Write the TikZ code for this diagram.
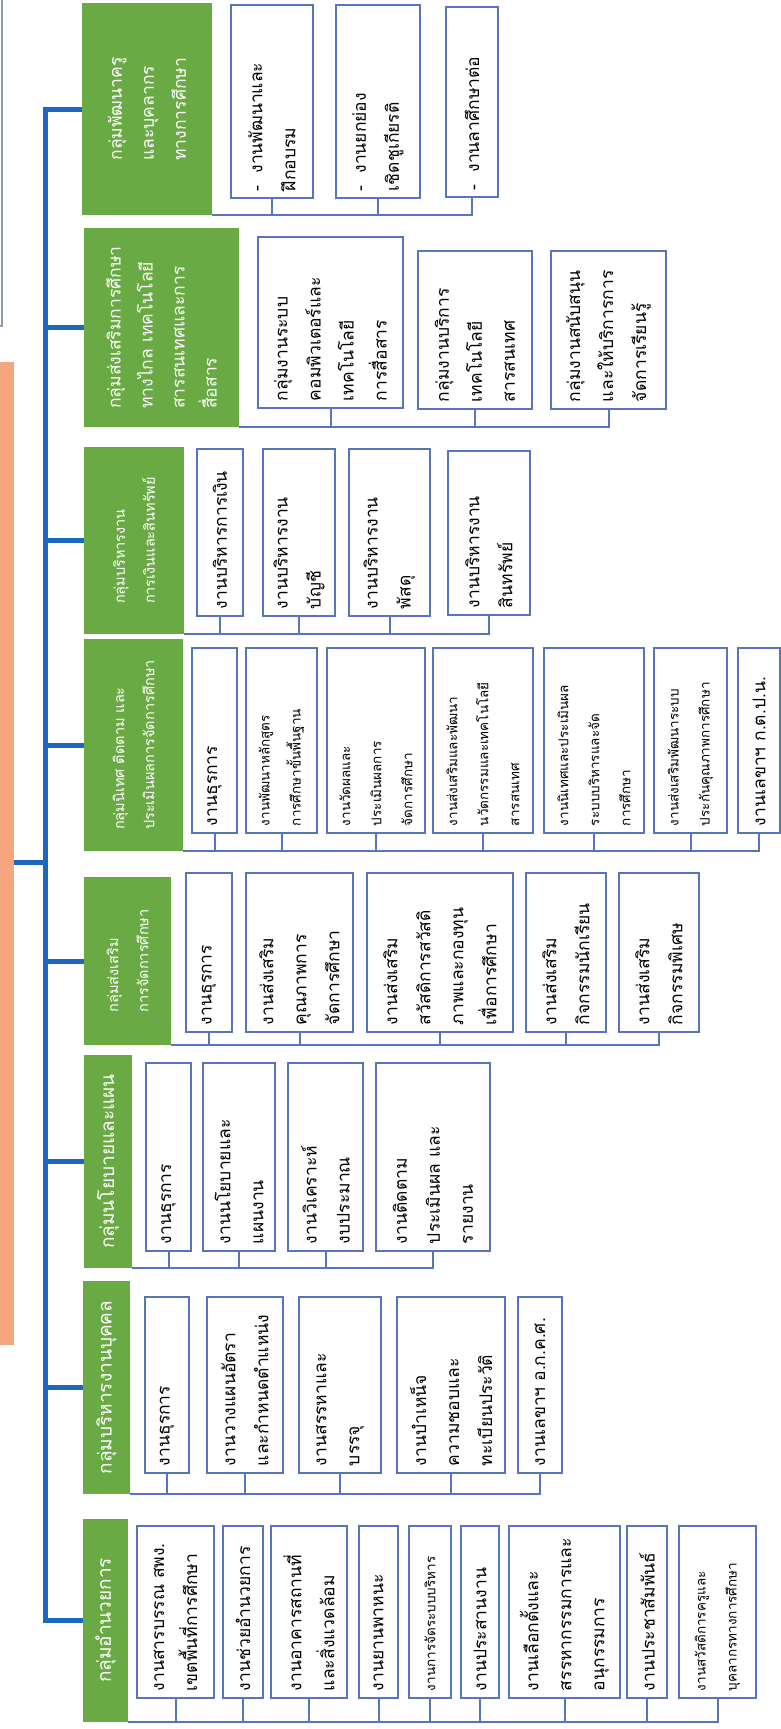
\documentclass[tikz,border=0pt]{standalone}
\usepackage{fontspec}
\setmainfont{Loma}[Script=Thai]
\definecolor{grpgreen}{RGB}{106,170,68}
\definecolor{trunkblue}{RGB}{28,104,190}
\definecolor{linkblue}{RGB}{88,116,186}
\definecolor{titleorange}{RGB}{245,166,126}
\definecolor{framegray}{RGB}{140,155,175}

\begin{document}
\begin{tikzpicture}[x=1pt,y=-1pt,
  grp/.style 2 args={rotate=90,fill=grpgreen,text=white,align=left,inner sep=0pt,
    minimum width=#1,minimum height=#2,font=\fontsize{19}{32}\selectfont},
  mid/.style={font=\fontsize{17.5}{32}\selectfont},
  low/.style={font=\fontsize{14.5}{30}\selectfont},
  itm/.style 2 args={rotate=90,draw=linkblue,line width=1.4pt,fill=white,align=left,
    inner xsep=7pt,inner ysep=0pt,minimum width=#1,minimum height=#2,
    text width=#1pt-14pt,font=\fontsize{17.5}{33}\selectfont},
  small/.style={font=\fontsize{13.5}{31}\selectfont},
  trunk/.style={draw=trunkblue,line width=5pt},
  bus/.style={draw=linkblue,line width=2pt}]
\fill[white] (0,0) rectangle (781,1729);
\useasboundingbox (0,0) rectangle (781,1729);
\clip (0,0) rectangle (781,1729);

\node[draw=framegray,line width=1.2pt,minimum width=100,minimum height=400,inner sep=0pt] (frame) at (-48,126) {};
\node[fill=titleorange,minimum width=60,minimum height=983,inner sep=0pt] (title) at (-16,853.5) {};

% groups
\node[grp={212}{130},mid] (g8) at (147,109) {กลุ่มพัฒนาครู\\และบุคลากร\\ทางการศึกษา};
\node[grp={199}{155},mid] (g7) at (161.5,327.5) {กลุ่มส่งเสริมการศึกษา\\ทางไกล เทคโนโลยี\\สารสนเทศและการ\\สื่อสาร};
\node[grp={187}{100},low] (g6) at (134,540.5) {กลุ่มบริหารงาน\\การเงินและสินทรัพย์};
\node[grp={212}{99},low] (g5) at (133.5,745) {กลุ่มนิเทศ ติดตาม และ\\ประเมินผลการจัดการศึกษา};
\node[grp={168}{87},low] (g4) at (127.5,961) {กลุ่มส่งเสริม\\การจัดการศึกษา};
\node[grp={213}{48}] (g3) at (108,1161.5) {กลุ่มนโยบายและแผน};
\node[grp={213}{47}] (g2) at (106.5,1387.5) {กลุ่มบริหารงานบุคคล};
\node[grp={203}{45}] (g1) at (105.5,1620.5) {กลุ่มอำนวยการ};

% กลุ่มพัฒนาครู
\node[itm={193}{82}] (k1) at (272,101.5) {-\ \ งานพัฒนาและ\\ฝึกอบรม};
\node[itm={193}{84}] (k2) at (378,101.5) {-\ \ งานยกย่อง\\เชิดชูเกียรติ};
\node[itm={190}{52}] (k3) at (472,102) {-\ \ งานลาศึกษาต่อ};

% กลุ่มทางไกล
\node[itm={171}{145}] (h1) at (330.5,322.5) {กลุ่มงานระบบ\\คอมพิวเตอร์และ\\เทคโนโลยี\\การสื่อสาร};
\node[itm={158}{114}] (h2) at (475,330) {กลุ่มงานบริการ\\เทคโนโลยี\\สารสนเทศ};
\node[itm={158}{115}] (h3) at (608.5,330) {กลุ่มงานสนับสนุน\\และให้บริการการ\\จัดการเรียนรู้};

% กลุ่มการเงิน
\node[itm={167}{46}] (f1) at (220,532.5) {งานบริหารการเงิน};
\node[itm={167}{72}] (f2) at (299,532.5) {งานบริหารงาน\\บัญชี};
\node[itm={167}{81}] (f3) at (389.5,532.5) {งานบริหารงาน\\พัสดุ};
\node[itm={164}{82}] (f4) at (489,533) {งานบริหารงาน\\สินทรัพย์};

% กลุ่มนิเทศ
\node[itm={185}{45}] (e1) at (214.5,740.5) {งานธุรการ};
\node[itm={185}{71},small] (e2) at (281.5,740.5) {งานพัฒนาหลักสูตร\\การศึกษาขั้นพื้นฐาน};
\node[itm={185}{98},small] (e3) at (376,740.5) {งานวัดผลและ\\ประเมินผลการ\\จัดการศึกษา};
\node[itm={185}{100},small] (e4) at (483,740.5) {งานส่งเสริมและพัฒนา\\นวัตกรรมและเทคโนโลยี\\สารสนเทศ};
\node[itm={185}{100},small] (e5) at (594,740.5) {งานนิเทศและประเมินผล\\ระบบบริหารและจัด\\การศึกษา};
\node[itm={185}{73},small] (e6) at (690.5,740.5) {งานส่งเสริมพัฒนาระบบ\\ประกันคุณภาพการศึกษา};
\node[itm={185}{42}] (e7) at (759,740.5) {งานเลขาฯ ก.ต.ป.น.};

% กลุ่มส่งเสริม
\node[itm={159}{46}] (d1) at (209,952.5) {งานธุรการ};
\node[itm={159}{107}] (d2) at (299.5,952.5) {งานส่งเสริม\\คุณภาพการ\\จัดการศึกษา};
\node[itm={159}{146}] (d3) at (440,952.5) {งานส่งเสริม\\สวัสดิการสวัสดิ\\ภาพและกองทุน\\เพื่อการศึกษา};
\node[itm={159}{80}] (d4) at (566,952.5) {งานส่งเสริม\\กิจกรรมนักเรียน};
\node[itm={159}{80}] (d5) at (659,952.5) {งานส่งเสริม\\กิจกรรมพิเศษ};

% กลุ่มนโยบาย
\node[itm={188}{45}] (c1) at (168.5,1157) {งานธุรการ};
\node[itm={188}{72}] (c2) at (239,1157) {งานนโยบายและ\\แผนงาน};
\node[itm={188}{75}] (c3) at (325.5,1157) {งานวิเคราะห์\\งบประมาณ};
\node[itm={188}{114}] (c4) at (433,1157) {งานติดตาม\\ประเมินผล และ\\รายงาน};

% กลุ่มบุคคล
\node[itm={176}{44}] (b1) at (167,1385) {งานธุรการ};
\node[itm={176}{76}] (b2) at (245,1385) {งานวางแผนอัตรา\\และกำหนดตำแหน่ง};
\node[itm={176}{82}] (b3) at (340,1385) {งานสรรหาและ\\บรรจุ};
\node[itm={176}{108}] (b4) at (451,1385) {งานบำเหน็จ\\ความชอบและ\\ทะเบียนประวัติ};
\node[itm={176}{44}] (b5) at (540,1385) {งานเลขาฯ อ.ก.ค.ศ.};

% กลุ่มอำนวยการ
\node[itm={172}{77}] (a1) at (175.5,1612) {งานสารบรรณ สพง.\\เขตพื้นที่การศึกษา};
\node[itm={172}{40}] (a2) at (243,1612) {งานช่วยอำนวยการ};
\node[itm={172}{76}] (a3) at (309,1612) {งานอาคารสถานที่\\และสิ่งแวดล้อม};
\node[itm={172}{39}] (a4) at (378.5,1612) {งานยานพาหนะ};
\node[itm={172}{42},small] (a5) at (430,1612) {งานการจัดระบบบริหาร};
\node[itm={172}{38}] (a6) at (480,1612) {งานประสานงาน};
\node[itm={172}{111}] (a7) at (564.5,1612) {งานเลือกตั้งและ\\สรรหากรรมการและ\\อนุกรรมการ};
\node[itm={172}{40}] (a8) at (647,1612) {งานประชาสัมพันธ์};
\node[itm={172}{77},small] (a9) at (717.5,1612) {งานสวัสดิการครูและ\\บุคลากรทางการศึกษา};

% trunk
\coordinate (trunk) at (45,862);
\draw[trunk] (title.east |- trunk) -- (trunk);
\draw[trunk,line cap=rect] (g8.north -| trunk) -- (g1.north -| trunk);
\draw[trunk] (g8.north -| trunk) -- (g8.north);
\draw[trunk] (g7.north -| trunk) -- (g7.north);
\draw[trunk] (g6.north -| trunk) -- (g6.north);
\draw[trunk] (g5.north -| trunk) -- (g5.north);
\draw[trunk] (g4.north -| trunk) -- (g4.north);
\draw[trunk] (g3.north -| trunk) -- (g3.north);
\draw[trunk] (g2.north -| trunk) -- (g2.north);
\draw[trunk] (g1.north -| trunk) -- (g1.north);

% bus lines
\draw[bus] (g8.south west) -| (k3.west);
\draw[bus] (k1.west) -- (k1.west |- g8.south west) (k2.west) -- (k2.west |- g8.south west);
\draw[bus] (g7.south west) -| (h3.west);
\draw[bus] (h1.west) -- (h1.west |- g7.south west) (h2.west) -- (h2.west |- g7.south west);
\draw[bus] (g6.south west) -| (f4.west);
\draw[bus] (f1.west) -- (f1.west |- g6.south west) (f2.west) -- (f2.west |- g6.south west)
  (f3.west) -- (f3.west |- g6.south west);
\draw[bus] (g5.south west) -| (e7.west);
\draw[bus] (e1.west) -- (e1.west |- g5.south west) (e2.west) -- (e2.west |- g5.south west)
  (e3.west) -- (e3.west |- g5.south west) (e4.west) -- (e4.west |- g5.south west)
  (e5.west) -- (e5.west |- g5.south west) (e6.west) -- (e6.west |- g5.south west);
\draw[bus] (g4.south west) -| (d5.west);
\draw[bus] (d1.west) -- (d1.west |- g4.south west) (d2.west) -- (d2.west |- g4.south west)
  (d3.west) -- (d3.west |- g4.south west) (d4.west) -- (d4.west |- g4.south west);
\draw[bus] (g3.south west) -| (c4.west);
\draw[bus] (c1.west) -- (c1.west |- g3.south west) (c2.west) -- (c2.west |- g3.south west)
  (c3.west) -- (c3.west |- g3.south west);
\draw[bus] (g2.south west) -| (b5.west);
\draw[bus] (b1.west) -- (b1.west |- g2.south west) (b2.west) -- (b2.west |- g2.south west)
  (b3.west) -- (b3.west |- g2.south west) (b4.west) -- (b4.west |- g2.south west);
\draw[bus] (g1.south west) -| (a9.west);
\draw[bus] (a1.west) -- (a1.west |- g1.south west) (a2.west) -- (a2.west |- g1.south west)
  (a3.west) -- (a3.west |- g1.south west) (a4.west) -- (a4.west |- g1.south west)
  (a5.west) -- (a5.west |- g1.south west) (a6.west) -- (a6.west |- g1.south west)
  (a7.west) -- (a7.west |- g1.south west) (a8.west) -- (a8.west |- g1.south west);
\end{tikzpicture}
\end{document}
